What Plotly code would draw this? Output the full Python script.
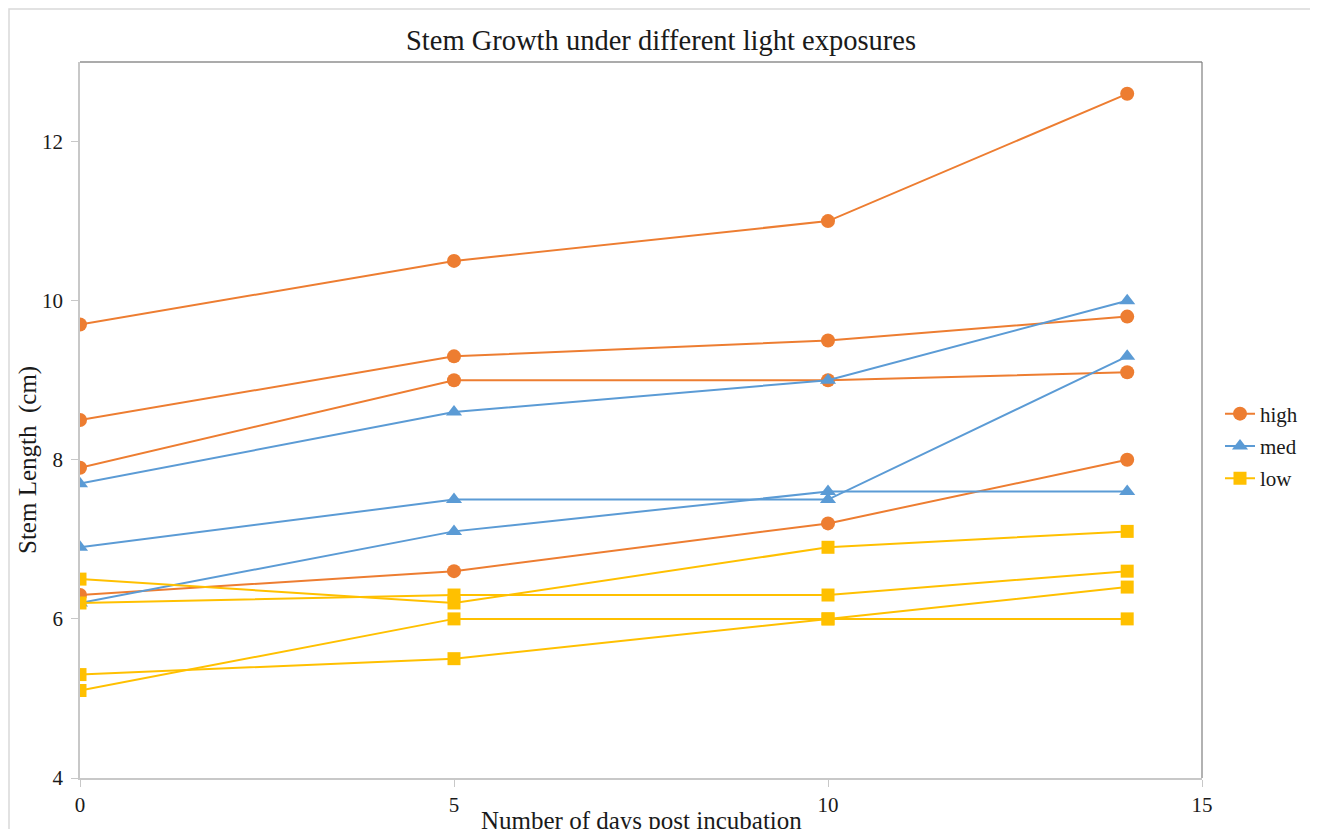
import plotly.graph_objects as go

days = [0, 5, 10, 14]

high_series = [
    [9.7, 10.5, 11.0, 12.6],
    [8.5, 9.3, 9.5, 9.8],
    [7.9, 9.0, 9.0, 9.1],
    [6.3, 6.6, 7.2, 8.0],
]
med_series = [
    [7.7, 8.6, 9.0, 10.0],
    [6.9, 7.5, 7.5, 9.3],
    [6.2, 7.1, 7.6, 7.6],
]
low_series = [
    [6.5, 6.2, 6.9, 7.1],
    [6.2, 6.3, 6.3, 6.6],
    [5.1, 6.0, 6.0, 6.0],
    [5.3, 5.5, 6.0, 6.4],
]

groups = [
    ("high", high_series, "#ED7D31", "circle", 14),
    ("med", med_series, "#5B9BD5", "triangle-up", 14),
    ("low", low_series, "#FFC000", "square", 13),
]

FONT = "Liberation Serif, Times New Roman, serif"
TXT = "#1a1a1a"

fig = go.Figure()
for name, series, color, symbol, msize in groups:
    for i, ys in enumerate(series):
        fig.add_trace(go.Scatter(
            x=days, y=ys, mode="lines+markers", name=name,
            legendgroup=name, showlegend=(i == 0),
            line=dict(color=color, width=2),
            marker=dict(color=color, symbol=symbol, size=msize),
        ))

# page offset (body margin) compensation
OX, OY = 8, 8
W, H = 1318 - OX, 829 - OY
PL, PR, PT, PB = 80, 1202, 62, 778          # plot area in page pixels
L, T = PL - OX, PT - OY
R, B = W - (PR - OX), H - (PB - OY)
pw, ph = PR - PL, PB - PT


def px(x):
    return (x - PL) / pw


def py(y):
    return (PB - y) / ph


fig.update_layout(
    width=W, height=H,
    margin=dict(l=L, r=R, t=T, b=B, autoexpand=False),
    paper_bgcolor="white", plot_bgcolor="white",
    font=dict(family=FONT, size=21, color=TXT),
    title=dict(text="Stem Growth under different light exposures",
               x=px(661), xref="paper", xanchor="center",
               y=1 - (40 - OY) / H, yanchor="middle",
               font=dict(size=28.5, family=FONT, color=TXT)),
    legend=dict(x=px(1220), xanchor="left", y=py(446), yanchor="middle",
                font=dict(size=21, family=FONT, color=TXT),
                bgcolor="rgba(0,0,0,0)", tracegroupgap=2, itemwidth=30),
    showlegend=True,
)
fig.update_xaxes(
    range=[0, 15], tickvals=[0, 5, 10, 15], showgrid=False, zeroline=False,
    showline=True, linecolor="#c8c8c8", linewidth=2,
    ticks="outside", ticklen=7, tickcolor="#c8c8c8", tickwidth=1,
    tickfont=dict(size=21, family=FONT, color=TXT), ticklabelstandoff=0,
    automargin=False,
)
fig.update_yaxes(
    range=[4, 13], tickvals=[4, 6, 8, 10, 12], showgrid=False, zeroline=False,
    showline=True, linecolor="#c8c8c8", linewidth=1.5,
    ticks="outside", ticklen=7, tickcolor="#c8c8c8", tickwidth=1,
    tickfont=dict(size=21, family=FONT, color=TXT), ticklabelstandoff=4,
    automargin=False,
)
# axis titles
fig.add_annotation(text="Number of days post incubation", xref="paper", yref="paper",
                   x=px(641), y=py(805), xanchor="center", yanchor="top",
                   showarrow=False, font=dict(size=25, family=FONT, color=TXT))
fig.add_annotation(text="Stem Length\u00a0 (cm)", xref="paper", yref="paper",
                   x=px(28), y=py(460), xanchor="center", yanchor="middle",
                   textangle=-90, showarrow=False,
                   font=dict(size=25, family=FONT, color=TXT))
# dark top/right frame of plot area
fig.add_shape(type="line", xref="paper", yref="paper", x0=0, x1=1, y0=1, y1=1,
              line=dict(color="#595959", width=1.2))
fig.add_shape(type="line", xref="paper", yref="paper", x0=1, x1=1, y0=0, y1=1,
              line=dict(color="#7f7f7f", width=1.2))
# outer chart frame
fig.add_shape(type="rect", xref="paper", yref="paper",
              x0=px(9), x1=px(1316), y0=py(840), y1=py(9),
              line=dict(color="#d9d9d9", width=1.5), layer="below")

fig.write_html("out.html")
